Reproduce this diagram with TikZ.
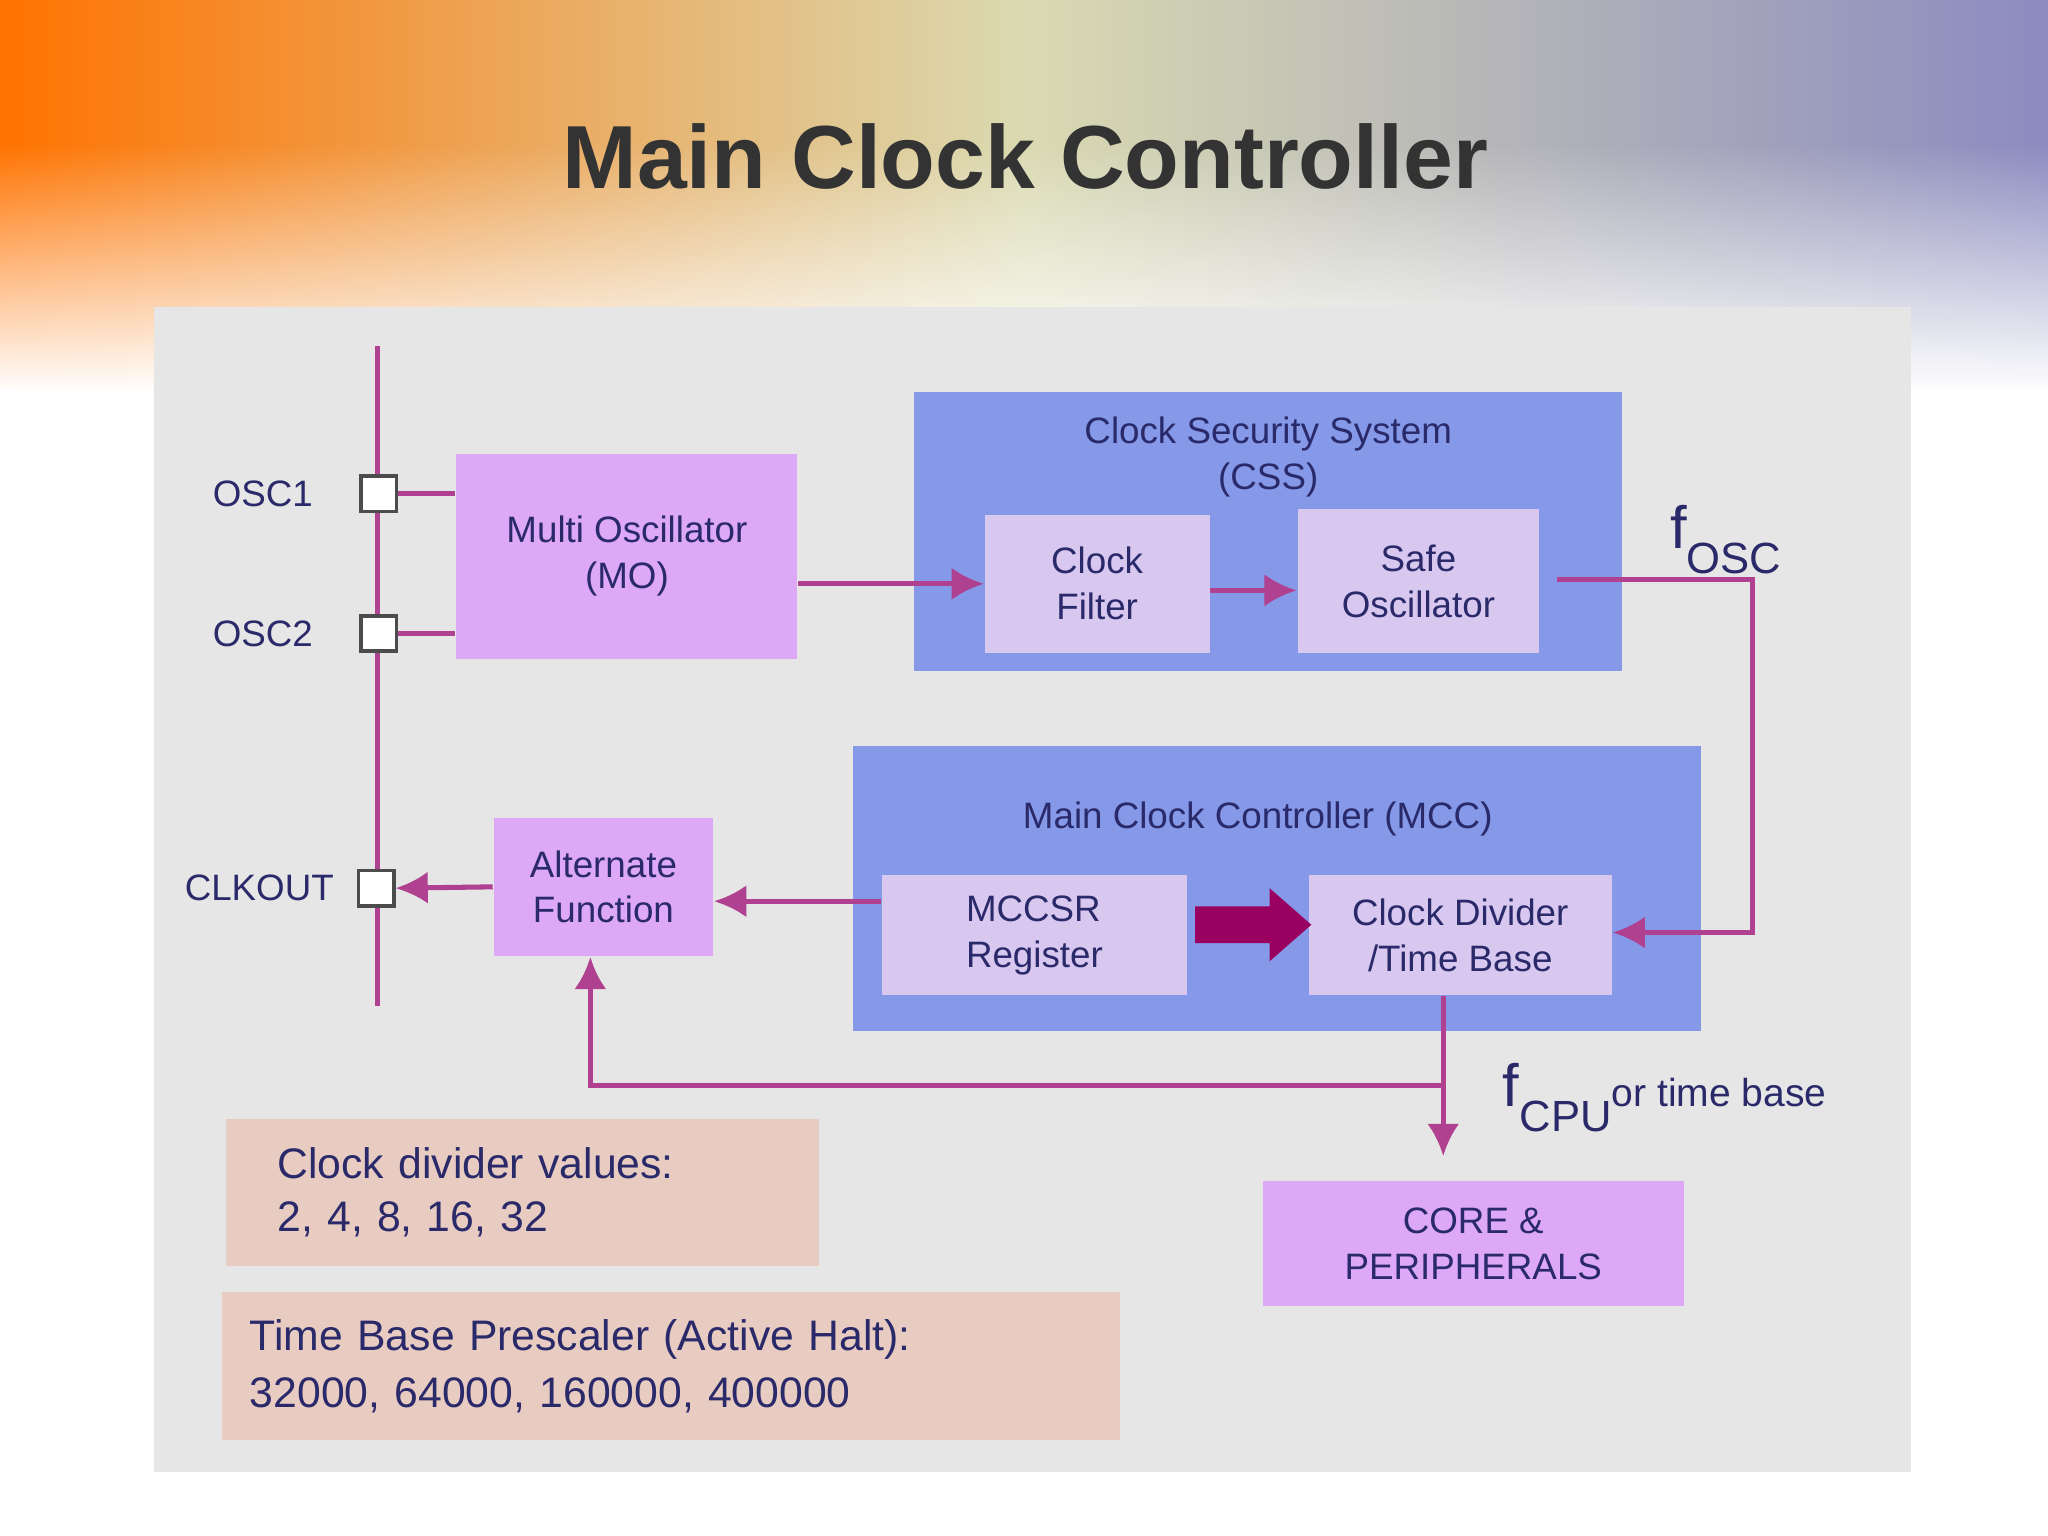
\documentclass[tikz,border=0pt]{standalone}
\usepackage{fontspec}
\setmainfont{Liberation Sans}
\usetikzlibrary{arrows.meta,fadings}
\definecolor{panel}{HTML}{E6E6E6}
\definecolor{wire}{HTML}{B04090}
\definecolor{pinkbox}{HTML}{DDA8F5}
\definecolor{bluebox}{HTML}{8599E8}
\definecolor{lilac}{HTML}{D8C8F0}
\definecolor{tan}{HTML}{E8CCC2}
\definecolor{txt}{HTML}{2A2A6A}
\definecolor{bigarrow}{HTML}{990060}
\begin{document}
\begin{tikzpicture}[x=0.01cm,y=-0.01cm,
  wire/.style={draw=wire,line width=1.1pt},
  arr/.style={wire,-{Latex[length=7pt,width=7pt]}},
  pin/.style={draw=black!70,fill=white,line width=0.8pt,minimum size=0.27cm,inner sep=0pt},
  box/.style={inner sep=0pt,align=center,text=txt,font=\fontsize{8}{10}\selectfont},
  lbl/.style={text=txt,font=\fontsize{8}{10}\selectfont}]
\useasboundingbox (0,0) rectangle (1568,1176);
\fill[white] (0,0) rectangle (1568,1176);
\shade[left color=orange!90!red,right color=blue!30!gray!70,middle color=yellow!35!gray!45] (0,0) rectangle (1568,300);
\fill[white,path fading=north] (0,110) rectangle (1568,300);
\node[font=\bfseries\fontsize{19.5}{24}\selectfont,text=black!80] (title) at (785,120) {Main Clock Controller};
\fill[panel] (118,235) rectangle (1463,1127);
% vertical bus
\coordinate (bt) at (289,265); \coordinate (bb) at (289,770);
\draw[wire] (bt) -- (bb);
% boxes
\node[box,fill=pinkbox,minimum width=2.61cm,minimum height=1.57cm] (mo) at (480,426) {Multi Oscillator\\(MO)};
\node[fill=bluebox,minimum width=5.42cm,minimum height=2.14cm,inner sep=0pt] (css) at (971,407) {};
\node[box] (csst) at (971,350) {Clock Security System\\(CSS)};
\node[box,fill=lilac,minimum width=1.72cm,minimum height=1.06cm] (cf) at (840,447) {Clock\\Filter};
\node[box,fill=lilac,minimum width=1.85cm,minimum height=1.10cm] (so) at (1086,445) {Safe\\Oscillator};
\node[fill=bluebox,minimum width=6.49cm,minimum height=2.18cm,inner sep=0pt] (mcc) at (978,680) {};
\node[box] (mcct) at (963,627) {Main Clock Controller (MCC)};
\node[box,fill=lilac,minimum width=2.34cm,minimum height=0.92cm,align=left] (mccsr) at (792,716) {MCCSR\\Register};
\node[box,fill=lilac,minimum width=2.32cm,minimum height=0.92cm] (cd) at (1118,716) {Clock Divider\\/Time Base};
\node[box,fill=pinkbox,minimum width=1.68cm,minimum height=1.06cm] (af) at (462,679) {Alternate\\Function};
\node[box,fill=pinkbox,minimum width=3.22cm,minimum height=0.96cm] (core) at (1128,952) {CORE \&\\PERIPHERALS};
\node[box,fill=tan,minimum width=4.54cm,minimum height=1.13cm,text width=3.75cm,align=left,font=\fontsize{9.3}{11.5}\selectfont] (cdv) at (400,913) {Clock divider values:\\2, 4, 8, 16, 32};
\node[box,fill=tan,minimum width=6.87cm,minimum height=1.13cm,text width=6.45cm,align=left,font=\fontsize{9.3}{12.5}\selectfont] (tbp) at (514,1046) {Time Base Prescaler (Active Halt):\\32000, 64000, 160000, 400000};
% pins
\node[pin] (osc1) at (290,378) {};
\node[pin] (osc2) at (290,485) {};
\node[pin] (clk) at (288,680) {};
\node[lbl,anchor=east] (l1) at (252,378) {OSC1};
\node[lbl,anchor=east] (l2) at (252,485) {OSC2};
\node[lbl,anchor=east] (l3) at (268,680) {CLKOUT};
% wires
\draw[wire] (osc1.east) -- (mo.west |- osc1);
\draw[wire] (osc2.east) -- (mo.west |- osc2);
\draw[arr] (mo.east |- cf) -- (cf.west);
\draw[arr] (cf.east |- 0,452) -- (so.west |- 0,452);
\coordinate (fr) at (1342,444);
\draw[arr] (so.east |- fr) ++(13,0) -- (fr) -- (1342,714) -- (cd.east |- 0,714);
\node[text=txt,anchor=base west,inner sep=0pt,font=\fontsize{13}{14}\selectfont] (fosc) at (1278,420) {f\raisebox{-0.8ex}{\fontsize{9.5}{12}\selectfont OSC}};
\draw[arr] (mccsr.west |- 0,690) -- (af.east |- 0,690);
\draw[arr] (af.west) -- (clk.east);
\coordinate (br) at (1105,831);
\draw[arr] (cd.south -| br) -- (1105,885);
\draw[arr] (br) -- (452,831) -- (af.south -| 452,0);
\node[text=txt,anchor=base west,inner sep=0pt,font=\fontsize{13}{14}\selectfont] (fcpu) at (1150,847) {f\raisebox{-0.8ex}{\fontsize{9.5}{12}\selectfont CPU}{\fontsize{8.5}{10}\selectfont or time base}};
\fill[bigarrow] (915,694) -- (972,694) -- (972,680) -- (1004,708) -- (972,736) -- (972,722) -- (915,722) -- cycle;
\end{tikzpicture}
\end{document}
